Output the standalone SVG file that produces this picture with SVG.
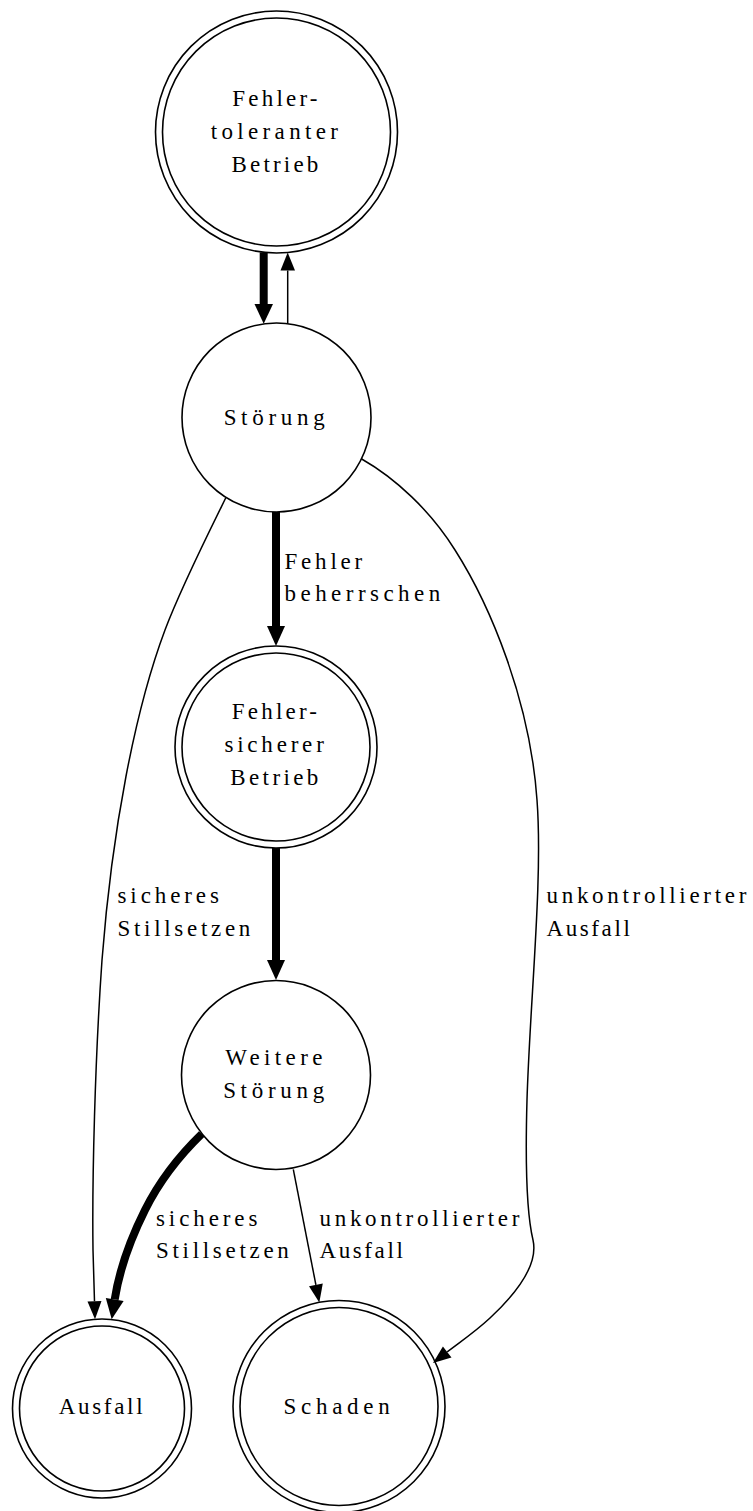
<svg xmlns="http://www.w3.org/2000/svg" width="753" height="1511" viewBox="0 0 753 1511">
  <defs>
    <style>
      text { font-family: "Liberation Serif", "DejaVu Serif", serif; font-size: 23px; fill: #000; }
      .node text { text-anchor: middle; }
      .node circle { fill: none; stroke: #000; stroke-width: 1.6; }
      .edge { fill: none; stroke: #000; stroke-linecap: butt; }
      .thin { stroke-width: 1.5; }
      .bold { stroke-width: 8; }
      .head { fill: #000; stroke: none; }
    </style>
  </defs>
  <rect width="753" height="1511" fill="#fff"/>

  <!-- states -->
  <g id="node-fehlertoleranter-betrieb" class="node">
    <circle cx="276.5" cy="132" r="121"/>
    <circle cx="276.5" cy="132" r="114"/>
    <text x="276.5" y="106" letter-spacing="3.2">Fehler-</text>
    <text x="276.5" y="139" letter-spacing="4.35">toleranter</text>
    <text x="276.5" y="172" letter-spacing="3.2">Betrieb</text>
  </g>

  <g id="node-stoerung" class="node">
    <circle cx="276.5" cy="417.5" r="94.5"/>
    <text x="276.5" y="425" letter-spacing="4.7">Störung</text>
  </g>

  <g id="node-fehlersicherer-betrieb" class="node">
    <circle cx="276" cy="747" r="101"/>
    <circle cx="276" cy="747" r="94"/>
    <text x="276" y="719" letter-spacing="3.2">Fehler-</text>
    <text x="276" y="752" letter-spacing="3.8">sicherer</text>
    <text x="276" y="785" letter-spacing="3.4">Betrieb</text>
  </g>

  <g id="node-weitere-stoerung" class="node">
    <circle cx="276" cy="1075" r="94.5"/>
    <text x="276" y="1065" letter-spacing="4.4">Weitere</text>
    <text x="276" y="1098" letter-spacing="4.7">Störung</text>
  </g>

  <g id="node-ausfall" class="node">
    <circle cx="102" cy="1408.5" r="89.5"/>
    <circle cx="102" cy="1408.5" r="82.5"/>
    <text x="102" y="1414" letter-spacing="2.7">Ausfall</text>
  </g>

  <g id="node-schaden" class="node">
    <circle cx="339" cy="1406.5" r="106"/>
    <circle cx="339" cy="1406.5" r="99"/>
    <text x="339" y="1414" letter-spacing="4.7">Schaden</text>
  </g>

  <!-- transitions -->
  <g id="edges">
    <!-- Fehlertoleranter Betrieb -> Störung -->
    <line class="edge bold" x1="263.7" y1="252.4" x2="263.7" y2="304"/>
    <polygon class="head" points="254.5,304 273,304 263.7,323.8"/>

    <!-- Störung -> Fehlertoleranter Betrieb -->
    <line class="edge thin" x1="287.7" y1="323.7" x2="287.7" y2="270.5"/>
    <polygon class="head" points="280.5,270.5 295,270.5 287.7,252.5"/>

    <!-- Störung -> Fehlersicherer Betrieb -->
    <line class="edge bold" x1="276" y1="512" x2="276" y2="626"/>
    <polygon class="head" points="267,626 285,626 276,646"/>
    <text x="284.5" y="569" letter-spacing="3.8">Fehler</text>
    <text x="284.5" y="601" letter-spacing="4.46">beherrschen</text>

    <!-- Fehlersicherer Betrieb -> Weitere Störung -->
    <line class="edge bold" x1="276" y1="848" x2="276" y2="960"/>
    <polygon class="head" points="267,960 285,960 276,980"/>

    <!-- Störung -> Ausfall -->
    <path class="edge thin" d="M225.7,498 C205,540 180,590 165,630 C135,710 112,830 102,960 C95,1060 92,1180 93,1250 L94.5,1301.3"/>
    <polygon class="head" points="87.5,1301.5 101.5,1301.1 95,1319.3"/>
    <text x="117.5" y="903" letter-spacing="3.9">sicheres</text>
    <text x="117.5" y="936" letter-spacing="3.7">Stillsetzen</text>

    <!-- Störung -> Schaden -->
    <path class="edge thin" d="M361.7,459 C395,478 430,510 455,550 C490,605 530,700 537,800 C543,880 530,1000 527,1100 C525,1170 527,1215 533,1240 C538,1262 520,1290 490,1318 C475,1332 460,1342 447.2,1351.9"/>
    <polygon class="head" points="451.5,1357.4 442.9,1346.4 433,1363"/>
    <text x="546.5" y="903" letter-spacing="3.7">unkontrollierter</text>
    <text x="546.5" y="936" letter-spacing="2.6">Ausfall</text>

    <!-- Weitere Störung -> Ausfall -->
    <path class="edge bold" d="M201.7,1134 C180,1155 160,1180 145,1210 C130,1240 119,1272 114.7,1299.5"/>
    <polygon class="head" points="123.6,1300.9 105.8,1298.1 111.7,1319.3"/>
    <text x="156" y="1226" letter-spacing="3.9">sicheres</text>
    <text x="156" y="1258" letter-spacing="3.7">Stillsetzen</text>

    <!-- Weitere Störung -> Schaden -->
    <line class="edge thin" x1="293.3" y1="1169.3" x2="315.9" y2="1284.9"/>
    <polygon class="head" points="322.8,1283.6 309,1286.2 319.3,1302.5"/>
    <text x="319.5" y="1226" letter-spacing="3.7">unkontrollierter</text>
    <text x="319.5" y="1258" letter-spacing="2.6">Ausfall</text>
  </g>
</svg>
